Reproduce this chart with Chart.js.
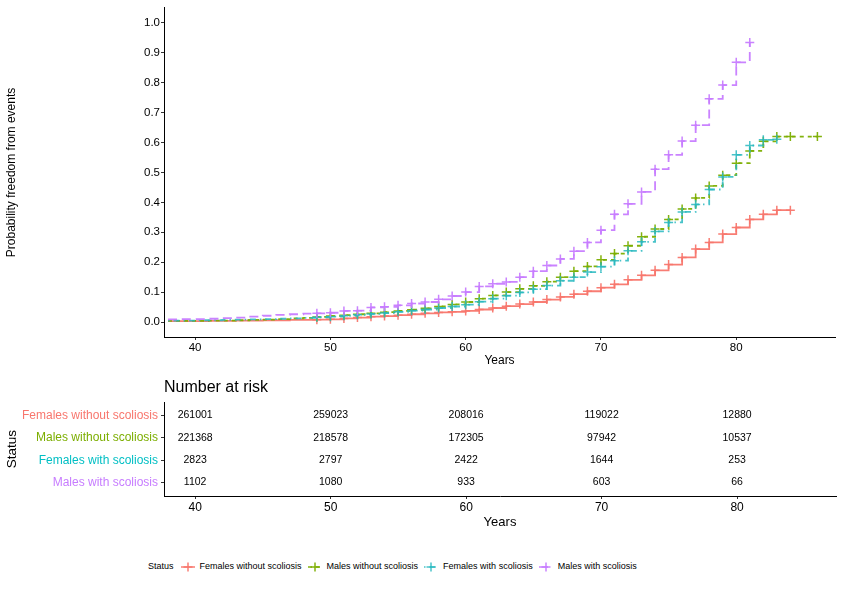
<!DOCTYPE html>
<html>
<head>
<meta charset="utf-8">
<script src="https://cdn.jsdelivr.net/npm/chart.js@4"></script>
<style>
  body { margin: 0; background: #fff; width: 841px; height: 595px; position: relative; overflow: hidden;
         font-family: "Liberation Sans", Arial, Helvetica, sans-serif; }
  #curves { position: absolute; left: 0; top: 0; }
  #risk { position: absolute; left: 0; top: 376px; }
  #legend { position: absolute; left: 148px; top: 560px; display: flex; align-items: center;
            font-size: 9px; color: #000; line-height: 13px; white-space: nowrap; }
  #legend .key { margin: 0 5px 0 6px; }
  #legend .ttl { margin-right: 1px; }
</style>
</head>
<body>
<canvas id="curves" width="841" height="372"></canvas>
<canvas id="risk" width="841" height="158"></canvas>
<div id="legend"></div>

<script>
// Cumulative probability of events by age, four groups
const ages = [38, 39, 40, 41, 42, 43, 44, 45, 46, 47, 48, 49, 50, 51, 52, 53, 54, 55, 56, 57, 58, 59,
              60, 61, 62, 63, 64, 65, 66, 67, 68, 69, 70, 71, 72, 73, 74, 75, 76, 77, 78, 79, 80, 81,
              82, 83, 84, 85, 86];

const femalesWithout = [0.003, 0.003, 0.003, 0.004, 0.004, 0.005, 0.005, 0.006, 0.006, 0.007, 0.007, 0.008,
  0.009, 0.012, 0.015, 0.018, 0.020, 0.023, 0.026, 0.029, 0.032, 0.034,
  0.037, 0.042, 0.047, 0.053, 0.060, 0.067, 0.075, 0.084, 0.093, 0.103,
  0.115, 0.126, 0.141, 0.156, 0.173, 0.192, 0.216, 0.244, 0.266, 0.294,
  0.316, 0.343, 0.360, 0.374, 0.374, null, null];

const malesWithout = [0.004, 0.004, 0.004, 0.005, 0.005, 0.006, 0.007, 0.008, 0.010, 0.012, 0.014, 0.017,
  0.020, 0.023, 0.026, 0.029, 0.033, 0.037, 0.041, 0.046, 0.052, 0.059,
  0.067, 0.078, 0.089, 0.100, 0.111, 0.121, 0.135, 0.150, 0.170, 0.186,
  0.208, 0.229, 0.255, 0.285, 0.311, 0.343, 0.378, 0.415, 0.455, 0.491,
  0.531, 0.572, 0.604, 0.620, 0.620, null, 0.620];

const femalesWith = [0.005, 0.005, 0.006, 0.006, 0.007, 0.008, 0.009, 0.010, 0.011, 0.012, 0.014, 0.016,
  0.018, 0.021, 0.024, 0.027, 0.030, 0.034, 0.038, 0.042, 0.047, 0.052,
  0.058, 0.068, 0.078, 0.088, 0.099, 0.110, 0.122, 0.138, 0.150, 0.167,
  0.185, 0.205, 0.238, 0.268, 0.303, 0.333, 0.368, 0.393, 0.443, 0.485,
  0.559, 0.590, 0.609, 0.611, null, null, null];

const malesWith = [0.009, 0.010, 0.010, 0.011, 0.013, 0.015, 0.018, 0.021, 0.024, 0.026, 0.028, 0.029,
  0.031, 0.037, 0.038, 0.049, 0.051, 0.056, 0.062, 0.067, 0.076, 0.087,
  0.100, 0.119, 0.128, 0.134, 0.150, 0.170, 0.189, 0.211, 0.237, 0.266,
  0.307, 0.360, 0.395, 0.435, 0.511, 0.559, 0.605, 0.658, 0.746, 0.792,
  0.868, 0.934, null, null, null, null, null];

// censor marks are only visible from this age on
const markFromAge = 49;

const statusNames = ['Females without scoliosis', 'Males without scoliosis',
                     'Females with scoliosis', 'Males with scoliosis'];

// Number at risk table
const riskYears = [40, 50, 60, 70, 80];
const riskFemalesWithout = [261001, 259023, 208016, 119022, 12880];
const riskMalesWithout = [221368, 218578, 172305, 97942, 10537];
const riskFemalesWith = [2823, 2797, 2422, 1644, 253];
const riskMalesWith = [1102, 1080, 933, 603, 66];

const xTicks = [40, 50, 60, 70, 80];
const yTicks = [0, 0.1, 0.2, 0.3, 0.4, 0.5, 0.6, 0.7, 0.8, 0.9, 1.0];

const colors = ['#F8766D', '#7CAE00', '#00BFC4', '#C77CFF'];
const lineColors = ['rgba(248,118,109,0.95)', 'rgba(124,174,0,0.95)', 'rgba(40,185,192,0.85)', 'rgba(199,124,255,0.95)'];
const dashes = [[], [4, 4], [1.5, 4, 6, 4], [9, 5]];
const FONT = '"Liberation Sans", Arial, Helvetica, sans-serif';

Chart.defaults.font.family = FONT;
Chart.defaults.color = '#000';

const seriesValues = [femalesWithout, malesWithout, femalesWith, malesWith];

function axisX(titleSize, fitHeight) {
  return {
    type: 'linear',
    min: 37.7,
    max: 87.3,
    afterBuildTicks: s => { s.ticks = xTicks.map(v => ({ value: v })); },
    afterFit: s => { s.height = fitHeight; },
    border: { display: true, color: '#000', width: 1 },
    grid: { drawOnChartArea: false, drawTicks: true, tickLength: 3, tickColor: '#333' },
    ticks: { font: { size: titleSize === 12 ? 11.5 : 12 }, color: '#000', padding: 1, maxRotation: 0 },
    title: { display: true, text: 'Years', font: { size: titleSize }, color: '#000',
             padding: { top: 2, bottom: 4 } }
  };
}

new Chart(document.getElementById('curves'), {
  type: 'line',
  data: {
    labels: ages,
    datasets: seriesValues.map((vals, i) => ({
      label: statusNames[i],
      data: vals.map((v, j) => ({ x: ages[j], y: v })),
      borderColor: lineColors[i],
      backgroundColor: lineColors[i],
      borderWidth: 1.8,
      borderDash: dashes[i],
      stepped: 'before',
      spanGaps: true,
      fill: false,
      pointStyle: 'cross',
      pointRadius: c => (c.raw && c.raw.x >= markFromAge ? 4.5 : 0),
      pointBorderWidth: 1.5,
      pointBorderColor: lineColors[i],
      order: 4 - i
    }))
  },
  options: {
    responsive: false,
    animation: false,
    devicePixelRatio: 1,
    layout: { padding: { top: 5, right: 5, left: 0, bottom: 0 } },
    plugins: { legend: { display: false }, tooltip: { enabled: false } },
    scales: {
      x: axisX(12, 35),
      y: {
        min: -0.05,
        max: 1.05,
        afterBuildTicks: s => { s.ticks = yTicks.map(v => ({ value: v })); },
        afterFit: s => { s.width = 164; },
        border: { display: true, color: '#000', width: 1 },
        grid: { drawOnChartArea: false, drawTicks: true, tickLength: 3, tickColor: '#333' },
        ticks: { font: { size: 11.5 }, color: '#000', padding: 1, callback: v => v.toFixed(1) },
        title: { display: true, text: 'Probability freedom from events', font: { size: 12 },
                 color: '#000', padding: { top: 4 } }
      }
    }
  }
});

// risk table: one row per group, text drawn at each (year, row) position
const riskRows = [riskFemalesWithout, riskMalesWithout, riskFemalesWith, riskMalesWith];

const riskText = {
  id: 'riskText',
  afterDatasetsDraw(chart) {
    const ctx = chart.ctx;
    ctx.save();
    ctx.font = '10.5px ' + FONT;
    ctx.fillStyle = '#000';
    ctx.textAlign = 'center';
    ctx.textBaseline = 'middle';
    chart.data.datasets.forEach((ds, i) => {
      chart.getDatasetMeta(i).data.forEach((pt, j) => {
        ctx.fillText(String(riskRows[i][j]), pt.x, pt.y);
      });
    });
    ctx.restore();
  }
};

new Chart(document.getElementById('risk'), {
  type: 'scatter',
  data: {
    datasets: riskRows.map((row, i) => ({
      label: statusNames[i],
      data: row.map((n, j) => ({ x: riskYears[j], y: i + 1 })),
      pointRadius: 0,
      showLine: false
    }))
  },
  options: {
    responsive: false,
    animation: false,
    devicePixelRatio: 1,
    layout: { padding: { top: 0, right: 5, left: 0, bottom: 0 } },
    plugins: {
      legend: { display: false },
      tooltip: { enabled: false },
      title: { display: true, text: 'Number at risk', align: 'start', fullSize: false,
               font: { size: 16, weight: 'normal' }, color: '#000', padding: { top: 2, bottom: 5 } }
    },
    scales: {
      x: axisX(13, 38),
      y: {
        reverse: true,
        min: 0.4,
        max: 4.6,
        afterBuildTicks: s => { s.ticks = statusNames.map((n, i) => ({ value: i + 1 })); },
        afterFit: s => { s.width = 164; },
        border: { display: true, color: '#000', width: 1 },
        grid: { drawOnChartArea: false, drawTicks: true, tickLength: 3, tickColor: '#333' },
        ticks: {
          font: { size: 12 },
          padding: 3,
          color: c => colors[c.index],
          callback: v => statusNames[v - 1]
        },
        title: { display: true, text: 'Status', font: { size: 13.5 }, color: '#000', padding: { top: 4 } }
      }
    }
  },
  plugins: [riskText]
});

// legend
const legend = document.getElementById('legend');
let html = '<span class="ttl">Status</span>';
statusNames.forEach((name, i) => {
  const da = dashes[i].length ? ' stroke-dasharray="' + dashes[i].join(' ') + '"' : '';
  html += '<svg class="key" width="14" height="10">' +
    '<line x1="0" y1="5" x2="14" y2="5" stroke="' + lineColors[i] + '" stroke-width="1.5"' + da + '/>' +
    '<line x1="2.5" y1="5" x2="11.5" y2="5" stroke="' + lineColors[i] + '" stroke-width="1.5"/>' +
    '<line x1="7" y1="0.5" x2="7" y2="9.5" stroke="' + lineColors[i] + '" stroke-width="1.5"/>' +
    '</svg><span>' + name + '</span>';
});
legend.innerHTML = html;
</script>
</body>
</html>
